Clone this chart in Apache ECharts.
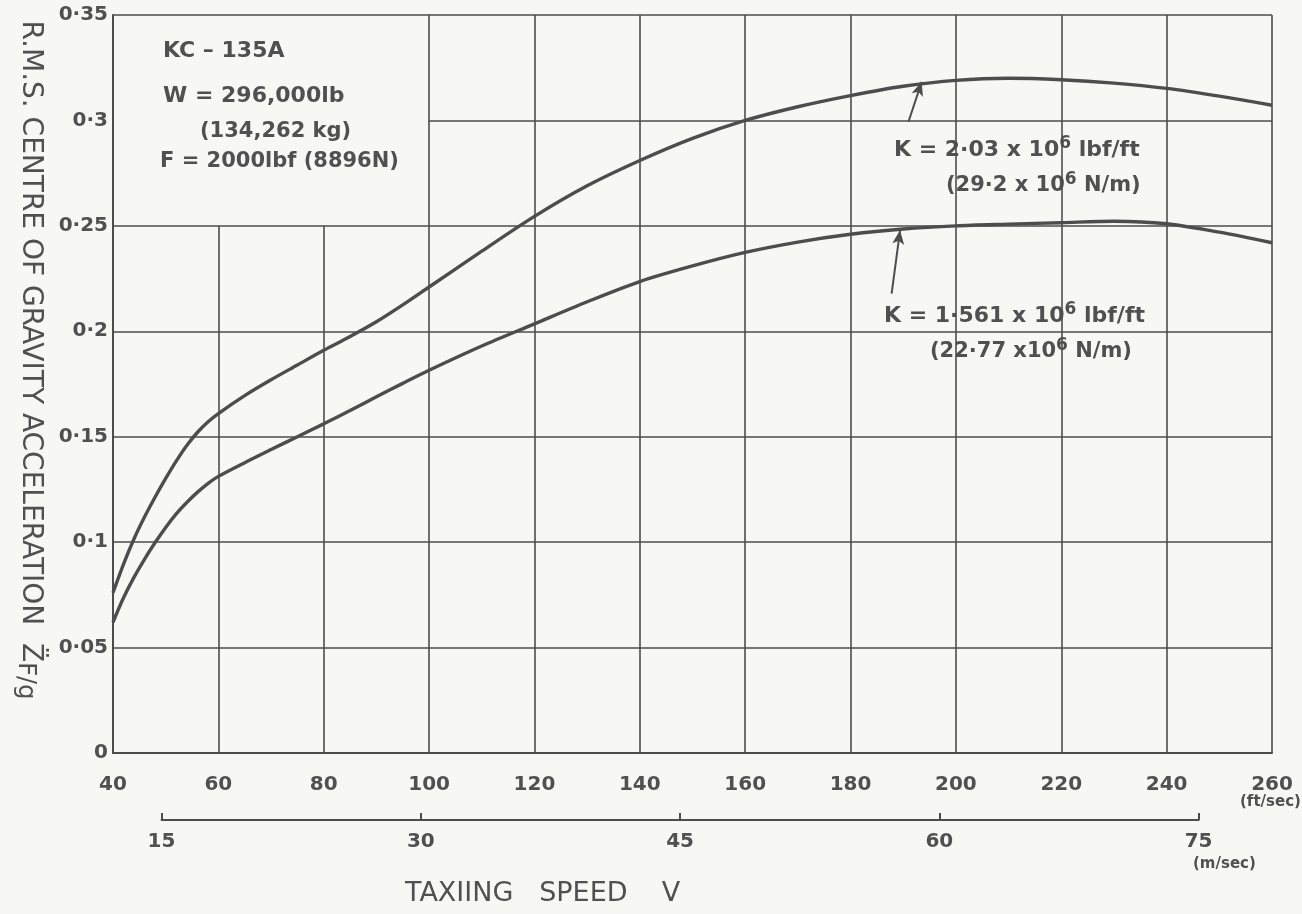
<!DOCTYPE html>
<html>
<head>
<meta charset="utf-8">
<script src="https://cdn.jsdelivr.net/npm/echarts@6/dist/echarts.min.js"></script>
<style>
html,body{margin:0;padding:0;background:#f7f7f4;}
#chart{width:1302px;height:914px;}
</style>
</head>
<body>
<div id="chart"></div>
<script>
// ---- data ----
const speedFt = [40, 42, 44, 46, 48, 50, 52, 54, 56, 58, 60, 65, 70, 75, 80, 85, 90, 95, 100, 110, 120, 130, 140, 150, 160, 170, 180, 190, 200, 210, 220, 230, 240, 250, 260];
const accelK203 = [0.076, 0.0896, 0.1016, 0.112, 0.1214, 0.1302, 0.1384, 0.1458, 0.152, 0.157, 0.161, 0.1695, 0.177, 0.184, 0.191, 0.1975, 0.2045, 0.2125, 0.221, 0.238, 0.2545, 0.269, 0.281, 0.2915, 0.300, 0.3065, 0.3118, 0.3162, 0.319, 0.320, 0.3193, 0.3177, 0.3152, 0.3115, 0.3072];
const accelK1561 = [0.062, 0.0736, 0.0834, 0.092, 0.0998, 0.107, 0.1134, 0.1188, 0.1236, 0.1278, 0.1312, 0.1377, 0.1439, 0.150, 0.1561, 0.1624, 0.1689, 0.1753, 0.1815, 0.193, 0.2035, 0.214, 0.2236, 0.231, 0.2374, 0.2423, 0.246, 0.2485, 0.250, 0.2508, 0.2515, 0.2522, 0.251, 0.247, 0.242];
const ftTicks = [40, 60, 80, 100, 120, 140, 160, 180, 200, 220, 240, 260];
const msTicks = [15, 30, 45, 60, 75];
const yTicks = [0, 0.05, 0.1, 0.15, 0.2, 0.25, 0.3, 0.35];
// annotation arrows [fromX, fromY, toX, toY] in data units
const arrowK203 = [191.0, 0.2994, 193.5, 0.3183];
const arrowK1561 = [187.8, 0.2179, 189.4, 0.2479];

const FT_PER_M = 3.28084;
const W = 1302, H = 914;
const G = {left: 113, right: 30, top: 15, bottom: 161};
const plotW = W - G.left - G.right;
const xMin = 40, xMax = 260;
const px = v => G.left + (v - xMin) / (xMax - xMin) * plotW;
const msLeft = px(msTicks[0] * FT_PER_M);
const msRight = W - px(msTicks[msTicks.length - 1] * FT_PER_M);

const INK = '#4d4d4d';
const TXT = '#505050';
const FONT = "'DejaVu Sans', sans-serif";

// grid lines as data-space lines
const gridLines = [];
const seg = (x1, y1, x2, y2) => gridLines.push([{coord: [x1, y1]}, {coord: [x2, y2]}]);
ftTicks.forEach(v => {
  if (v === 40) return;
  if (v === 60 || v === 80) seg(v, 0, v, 0.25);
  else seg(v, 0, v, 0.35);
});
yTicks.forEach(v => {
  if (v === 0) return;
  if (v === 0.3) seg(100, v, 260, v);
  else seg(40, v, 260, v);
});

const fmtY = v => v === 0 ? '0' : (+v.toFixed(2)).toString().replace('.', '·');
const sup = {fontSize: 17, fontWeight: 'bold', fontFamily: 'DejaVu Sans', padding: [0, 0, 13, 0], fill: TXT};

const chart = echarts.init(document.getElementById('chart'), null, {renderer: 'canvas'});
chart.setOption({
  backgroundColor: '#f7f7f4',
  animation: false,
  grid: [
    {left: G.left, right: G.right, top: G.top, bottom: G.bottom},
    {left: msLeft, right: msRight, top: 819, height: 1}
  ],
  xAxis: [
    {
      type: 'value', gridIndex: 0, min: xMin, max: xMax, interval: 20,
      axisLine: {show: true, lineStyle: {color: INK, width: 2}},
      axisTick: {show: false},
      splitLine: {show: false},
      axisLabel: {color: TXT, fontFamily: FONT, fontWeight: 'bold', fontSize: 20, margin: 22}
    },
    {
      type: 'value', gridIndex: 1, min: 15, max: 75, interval: 15,
      axisLine: {show: true, lineStyle: {color: INK, width: 2}},
      axisTick: {show: true, inside: true, length: 7, lineStyle: {color: INK, width: 2}},
      splitLine: {show: false},
      axisLabel: {color: TXT, fontFamily: FONT, fontWeight: 'bold', fontSize: 20, margin: 12}
    }
  ],
  yAxis: [
    {
      type: 'value', gridIndex: 0, min: 0, max: 0.35, interval: 0.05,
      axisLine: {show: true, lineStyle: {color: INK, width: 2}},
      axisTick: {show: false},
      splitLine: {show: false},
      axisLabel: {color: TXT, fontFamily: FONT, fontWeight: 'bold', fontSize: 20, margin: 5, formatter: fmtY}
    },
    {type: 'value', gridIndex: 1, show: false, min: 0, max: 1}
  ],
  series: [
    {
      name: 'grid', type: 'line', xAxisIndex: 0, yAxisIndex: 0, data: [],
      markLine: {
        silent: true, symbol: ['none', 'none'], animation: false,
        lineStyle: {color: INK, width: 1.6, type: 'solid'},
        label: {show: false},
        data: gridLines
      }
    },
    {
      name: 'K = 2.03e6 lbf/ft', type: 'line', smooth: 0.3, showSymbol: false,
      data: speedFt.map((x, i) => [x, accelK203[i]]),
      lineStyle: {color: INK, width: 3.4},
      markLine: {
        silent: true, symbol: ['none', 'arrow'], symbolSize: [9, 14],
        lineStyle: {color: INK, width: 2, type: 'solid'}, label: {show: false},
        data: [[{coord: [arrowK203[0], arrowK203[1]]}, {coord: [arrowK203[2], arrowK203[3]]}]]
      }
    },
    {
      name: 'K = 1.561e6 lbf/ft', type: 'line', smooth: 0.3, showSymbol: false,
      data: speedFt.map((x, i) => [x, accelK1561[i]]),
      lineStyle: {color: INK, width: 3.4},
      markLine: {
        silent: true, symbol: ['none', 'arrow'], symbolSize: [9, 14],
        lineStyle: {color: INK, width: 2, type: 'solid'}, label: {show: false},
        data: [[{coord: [arrowK1561[0], arrowK1561[1]]}, {coord: [arrowK1561[2], arrowK1561[3]]}]]
      }
    }
  ],
  graphic: [
    {type: 'text', left: 163, top: 40, style: {text: 'KC – 135A', font: "bold 22px 'DejaVu Sans'", fill: TXT}},
    {type: 'text', left: 163, top: 85, style: {text: 'W = 296,000lb', font: "bold 22px 'DejaVu Sans'", fill: TXT}},
    {type: 'text', left: 200, top: 121, style: {text: '(134,262 kg)', font: "bold 21px 'DejaVu Sans'", fill: TXT}},
    {type: 'text', left: 160, top: 151, style: {text: 'F = 2000lbf (8896N)', font: "bold 21px 'DejaVu Sans'", fill: TXT}},
    {type: 'text', left: 894, top: 135, style: {
      text: 'K = 2·03 x 10{s|6} lbf/ft', font: "bold 22px 'DejaVu Sans'", fill: TXT, rich: {s: sup}}},
    {type: 'text', left: 946, top: 171, style: {
      text: '(29·2 x 10{s|6} N/m)', font: "bold 21px 'DejaVu Sans'", fill: TXT, rich: {s: sup}}},
    {type: 'text', left: 884, top: 301, style: {
      text: 'K = 1·561 x 10{s|6} lbf/ft', font: "bold 22px 'DejaVu Sans'", fill: TXT, rich: {s: sup}}},
    {type: 'text', left: 930, top: 337, style: {
      text: '(22·77 x10{s|6} N/m)', font: "bold 21px 'DejaVu Sans'", fill: TXT, rich: {s: sup}}},
    {type: 'text', left: 1240, top: 795, style: {text: '(ft/sec)', font: "bold 15px 'DejaVu Sans'", fill: TXT}},
    {type: 'text', left: 1193, top: 857, style: {text: '(m/sec)', font: "bold 15px 'DejaVu Sans'", fill: TXT}},
    {type: 'text', left: 405, top: 880, style: {text: 'TAXIING   SPEED    V', font: "27px 'DejaVu Sans'", fill: TXT}},
    {type: 'text', x: 30, y: 360, rotation: -Math.PI / 2, style: {
      text: 'R.M.S. CENTRE OF GRAVITY ACCELERATION  Z\u0308{f|F/g}',
      font: "28px 'DejaVu Sans'", fill: TXT, align: 'center', verticalAlign: 'middle',
      rich: {f: {fontSize: 24, fontFamily: 'DejaVu Sans', padding: [10, 0, 0, 0], fill: TXT}}}}
  ]
});
</script>
</body>
</html>
